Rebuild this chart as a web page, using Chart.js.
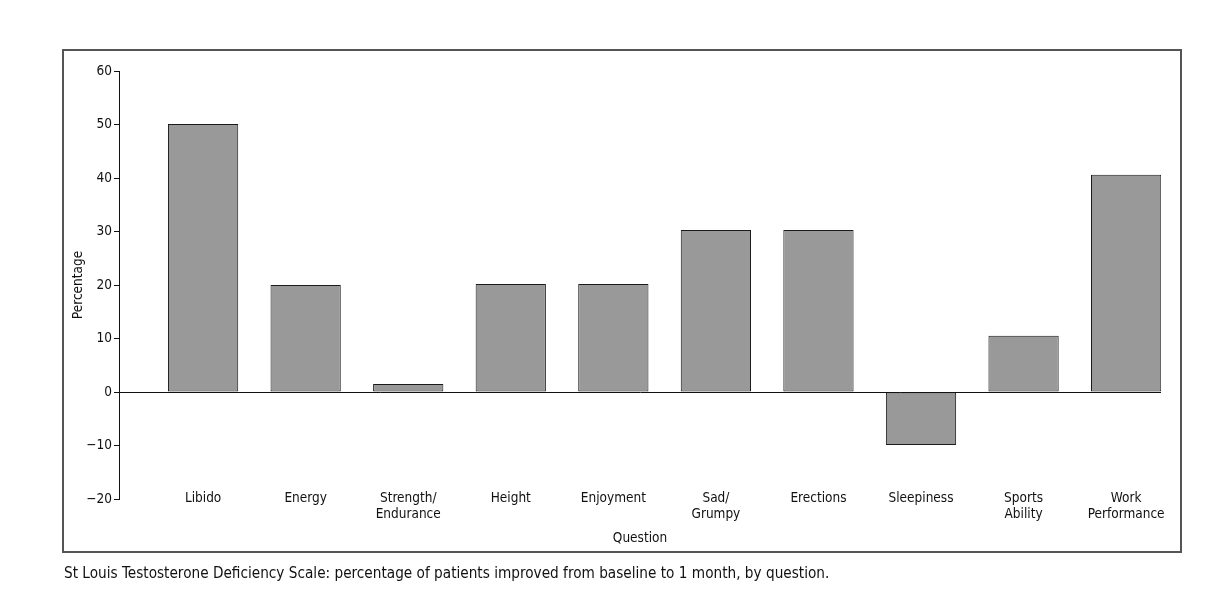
<!DOCTYPE html>
<html>
<head>
<meta charset="utf-8">
<script src="https://cdn.jsdelivr.net/npm/chart.js@4"></script>
<style>
  body { margin: 0; background: #fff; }
  #frame { position: absolute; left: 62px; top: 49px; width: 1116px; height: 500px; border: 2px solid #555; }
  #chart { position: absolute; left: 0; top: 0; }
  #caption { position: absolute; left: 64px; top: 564px; font-family: 'Liberation Sans Narrow', 'DejaVu Sans Condensed', Roboto, sans-serif; font-size: 15.2px; color: #111; }
</style>
</head>
<body>
<div id="frame"></div>
<canvas id="chart" width="1229" height="609"></canvas>
<div id="caption">St Louis Testosterone Deficiency Scale: percentage of patients improved from baseline to 1 month, by question.</div>
<script>
const questions = ['Libido', 'Energy', ['Strength/', 'Endurance'], 'Height', 'Enjoyment',
    ['Sad/', 'Grumpy'], 'Erections', 'Sleepiness', ['Sports', 'Ability'], ['Work', 'Performance']];
const improved = [50.1, 20.0, 1.5, 20.2, 20.2, 30.3, 30.3, -9.9, 10.5, 40.6];
const yTicks = [60, 50, 40, 30, 20, 10, 0, -10, -20];

const fontFamily = "'Liberation Sans Narrow', 'DejaVu Sans Condensed', Roboto, sans-serif";
Chart.defaults.font.family = fontFamily;
Chart.defaults.font.size = 13.5;
Chart.defaults.color = '#111';

const ctx = document.getElementById('chart').getContext('2d');
const chart = new Chart(ctx, {
    type: 'bar',
    data: {
        datasets: [{
            label: 'Percentage',
            data: improved.map(function (v, i) { return {x: i, y: v}; }),
            backgroundColor: '#999999',
            borderColor: '#1a1a1a',
            borderWidth: 1,
            borderSkipped: false,
            barPercentage: 0.685,
            categoryPercentage: 1
        }]
    },
    options: {
        responsive: false,
        animation: false,
        devicePixelRatio: 1,
        layout: {padding: {left: 66, top: 71, right: 68, bottom: 110}},
        plugins: {legend: {display: false}, tooltip: {enabled: false}},
        scales: {
            x: {
                type: 'linear',
                position: {y: -20},
                offset: false,
                min: -0.82,
                max: 9.34,
                afterBuildTicks: function (scale) {
                    scale.ticks = questions.map(function (q, i) { return {value: i}; });
                },
                afterFit: function (scale) { scale.height = 50; },
                ticks: {
                    padding: -16,
                    maxRotation: 0,
                    autoSkip: false,
                    font: {lineHeight: 1.18},
                    callback: function (value) { return questions[value]; }
                },
                grid: {display: false},
                border: {display: false},
                title: {display: true, text: 'Question', padding: {top: 0, bottom: 2}}
            },
            y: {
                min: -20,
                max: 60,
                afterBuildTicks: function (scale) {
                    scale.ticks = yTicks.map(function (v) { return {value: v}; });
                },
                afterFit: function (scale) { scale.width = 53; },
                ticks: {
                    padding: 2,
                    callback: function (value) { return value < 0 ? '\u2212' + Math.abs(value) : String(value); }
                },
                grid: {
                    drawOnChartArea: true,
                    tickLength: 5,
                    tickColor: '#111',
                    color: function (c) { return c.tick && c.tick.value === 0 ? '#111' : 'rgba(0,0,0,0)'; }
                },
                border: {display: true, color: '#111', width: 1},
                title: {display: true, text: 'Percentage', padding: {top: 4, bottom: 0}}
            }
        }
    }
});
</script>
</body>
</html>
